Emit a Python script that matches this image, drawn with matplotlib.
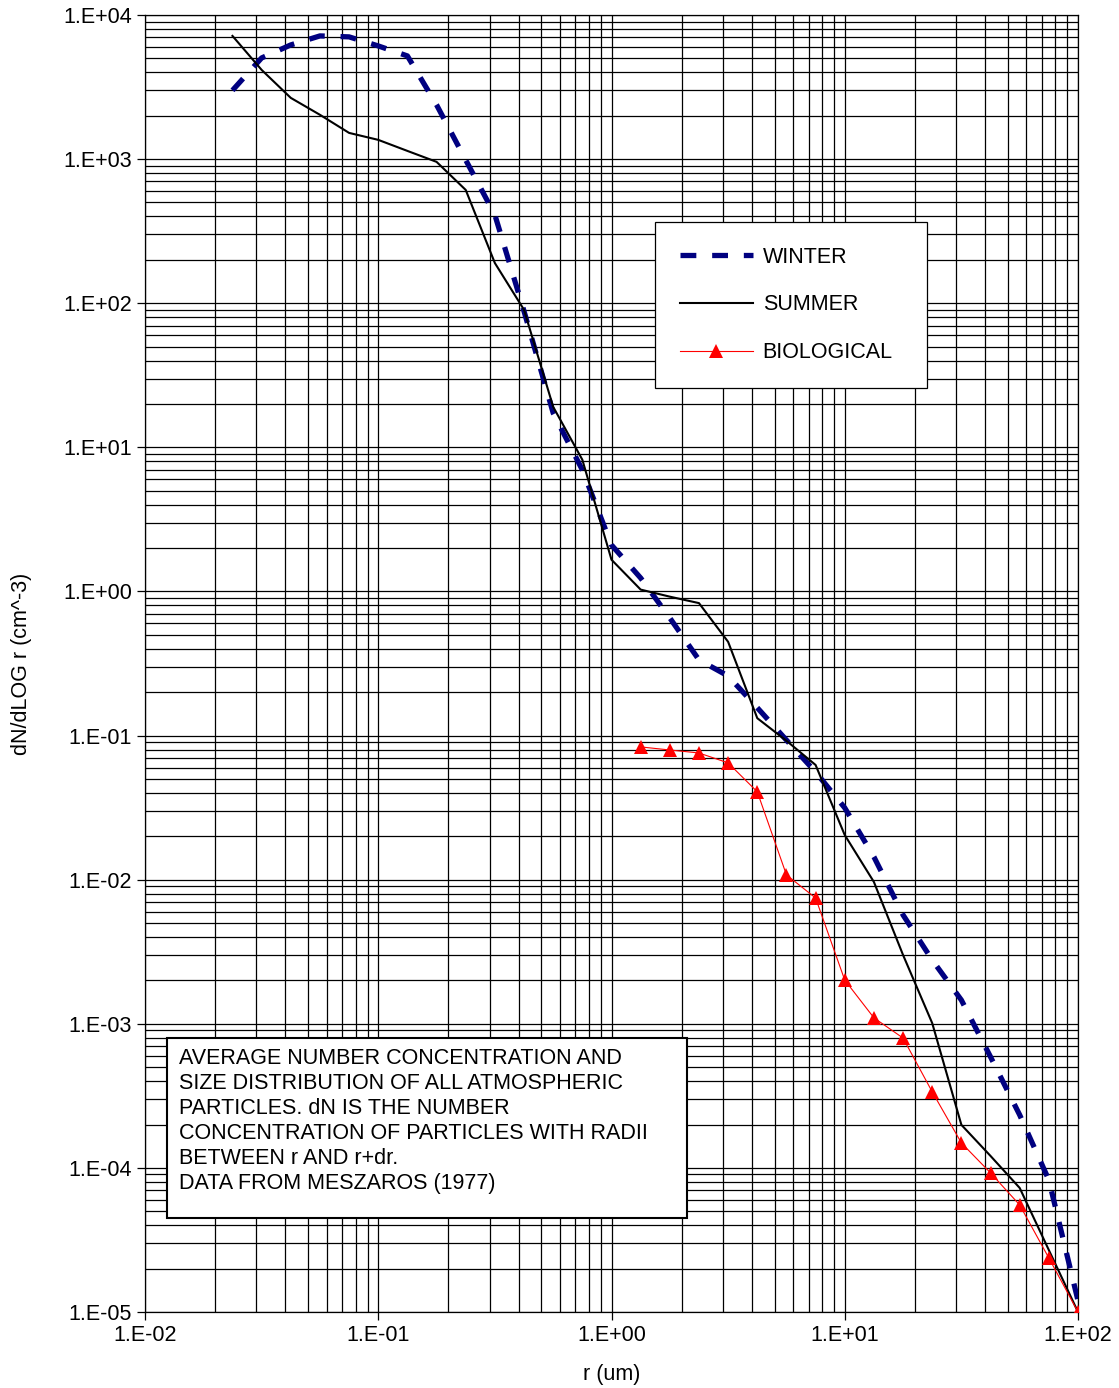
import numpy as np
import matplotlib
matplotlib.use("Agg")
import matplotlib.pyplot as plt
from matplotlib.ticker import FixedLocator, FuncFormatter, NullFormatter
from matplotlib.patches import Rectangle

plt.rcParams['font.family'] = ['Liberation Sans', 'DejaVu Sans']

# Radius grid: 1/8-decade steps from 10^-1.625 to 10^2 um
log_r = np.arange(-1.625, 2.0001, 0.125)
r = 10 ** log_r

winter = [3000, 5035, 6200, 7160, 7050, 6100, 5200, 2380, 986, 410,
          88, 17.3, 6.97, 2.10, 1.24, 0.655, 0.335, 0.259, 0.156, 0.093,
          0.0558, 0.0315, 0.0144, 0.00569, 0.00277, 0.00146, 5.89e-4,
          2.33e-4, 8.24e-5, 1.2e-5]

summer = [7160, 4160, 2660, 2030, 1520, 1360, 1140, 957, 611, 190,
          90, 19.1, 8.2, 1.66, 1.03, 0.92, 0.83, 0.447, 0.132, 0.092,
          0.0625, 0.0204, 0.00964, 0.0030, 0.00101, 1.99e-4, 1.21e-4,
          7.26e-5, 2.69e-5, 1.0e-5]

# Biological particles start at r = 10^0.125 um
r_bio = r[14:]
biological = [0.0834, 0.0794, 0.0757, 0.0646, 0.0407, 0.0108, 0.00746,
              0.00201, 0.00110, 7.96e-4, 3.37e-4, 1.49e-4, 9.23e-5,
              5.53e-5, 2.37e-5, 1.0e-5]

series_labels = ["WINTER", "SUMMER", "BIOLOGICAL"]
x_decades = [-2, -1, 0, 1, 2]
y_decades = [-5, -4, -3, -2, -1, 0, 1, 2, 3, 4]
note = ("AVERAGE NUMBER CONCENTRATION AND\n"
        "SIZE DISTRIBUTION OF ALL ATMOSPHERIC\n"
        "PARTICLES. dN IS THE NUMBER\n"
        "CONCENTRATION OF PARTICLES WITH RADII\n"
        "BETWEEN r AND r+dr.\n"
        "DATA FROM MESZAROS (1977)")

FS = 15.5
W, H = 1119, 1388
fig = plt.figure(figsize=(W / 100, H / 100), dpi=100)
ax = fig.add_axes([145 / W, 1 - 1312 / H, (1078 - 145) / W, (1312 - 15) / H])

ax.set_xscale('log')
ax.set_yscale('log')
ax.set_xlim(10.0 ** x_decades[0], 10.0 ** x_decades[-1])
ax.set_ylim(10.0 ** y_decades[0], 10.0 ** y_decades[-1])

ax.plot(r, winter, color='#000080', linewidth=3.8, dashes=(3, 3),
        solid_capstyle='butt', dash_capstyle='butt', label=series_labels[0], zorder=3)
ax.plot(r, summer, color='black', linewidth=1.5, label=series_labels[1], zorder=4)
ax.plot(r_bio, biological, color='red', linewidth=0.8, marker='^',
        markersize=10, markeredgewidth=0, label=series_labels[2], zorder=5)


def minor_positions(decades):
    return [m * 10.0 ** d for d in decades[:-1] for m in range(2, 10)]


# Grid on every major and minor log line
ax.xaxis.set_major_locator(FixedLocator([10.0 ** d for d in x_decades]))
ax.yaxis.set_major_locator(FixedLocator([10.0 ** d for d in y_decades]))
ax.xaxis.set_minor_locator(FixedLocator(minor_positions(x_decades)))
ax.yaxis.set_minor_locator(FixedLocator(minor_positions(y_decades)))
ax.xaxis.set_minor_formatter(NullFormatter())
ax.yaxis.set_minor_formatter(NullFormatter())
fmt = FuncFormatter(lambda v, p: "1.E%+03d" % int(round(np.log10(v))))
ax.xaxis.set_major_formatter(fmt)
ax.yaxis.set_major_formatter(fmt)
ax.grid(True, which='both', color='black', linewidth=0.9)
ax.set_axisbelow(True)
ax.tick_params(which='major', direction='out', length=6, width=0.9,
               labelsize=FS, colors='black')
ax.tick_params(which='minor', length=0)
for s in ax.spines.values():
    s.set_linewidth(0.9)

ax.set_xlabel("r (um)", fontsize=FS, labelpad=13)
ax.set_ylabel("dN/dLOG r (cm^-3)", fontsize=FS, labelpad=22)

# Legend box
lx0 = (655 - 145) / 933
lx1 = (927 - 145) / 933
ly0 = (1312 - 388) / 1297
ly1 = (1312 - 222) / 1297
leg = ax.legend(loc='upper left', bbox_to_anchor=(lx0, ly0, lx1 - lx0, ly1 - ly0),
                mode='expand', fontsize=FS, frameon=True, fancybox=False,
                edgecolor='black', framealpha=1, handlelength=3.4,
                handletextpad=0.45, labelspacing=1.24, borderpad=1.15,
                borderaxespad=0)
leg.get_frame().set_linewidth(0.9)
leg.set_zorder(10)

# Note box
bx0 = (167 - 145) / 933
bx1 = (687 - 145) / 933
by0 = (1312 - 1218) / 1297
by1 = (1312 - 1038) / 1297
ax.add_patch(Rectangle((bx0, by0), bx1 - bx0, by1 - by0, transform=ax.transAxes,
                       facecolor='white', edgecolor='black', linewidth=1.5, zorder=8))
ax.text((179 - 145) / 933, (1312 - 1048) / 1297, note, transform=ax.transAxes,
        ha='left', va='top', fontsize=FS, linespacing=1.25, zorder=9)

fig.savefig("out.png", dpi=100)
